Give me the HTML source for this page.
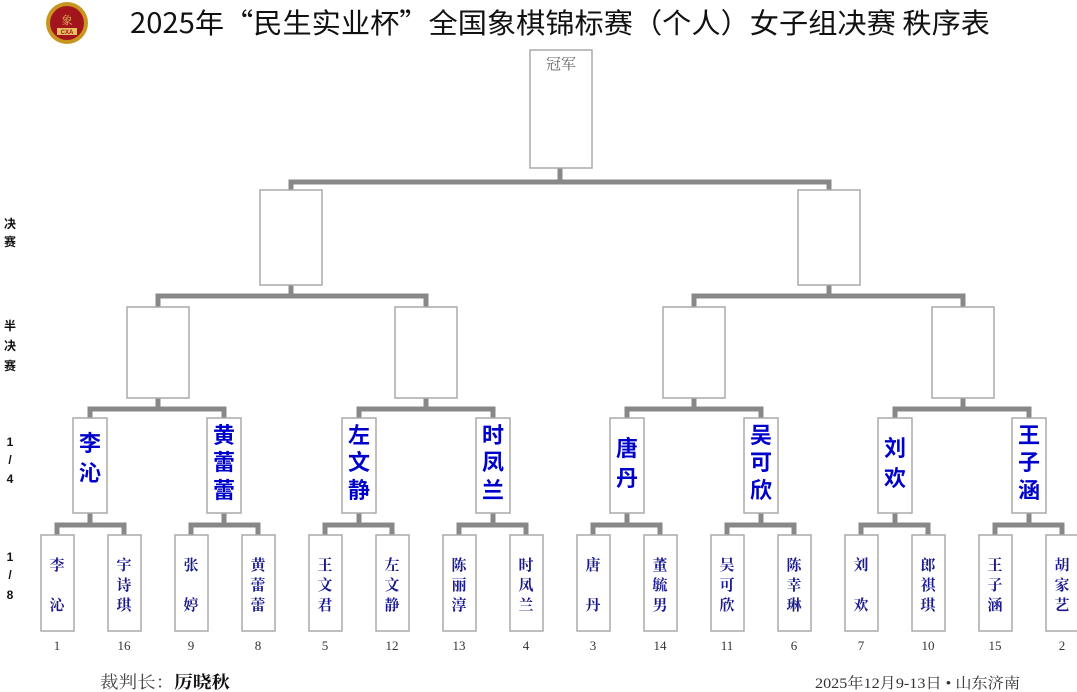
<!DOCTYPE html>
<html><head><meta charset="utf-8"><style>
body{margin:0;background:#fff;width:1077px;height:692px;overflow:hidden;}
svg{display:block}
.s{font-family:"Liberation Serif","Noto Serif CJK SC",serif;}
.k{font-family:"Liberation Sans","Noto Sans CJK SC",sans-serif;}
</style></head><body>
<svg width="1077" height="692" viewBox="0 0 1077 692">
<!-- logo -->
<circle cx="67" cy="23" r="21" fill="#c8961e"/>
<circle cx="67" cy="23" r="17" fill="#a3151c"/>
<text x="67" y="24" font-size="11" fill="#e8c060" text-anchor="middle" class="s">象</text>
<rect x="57" y="28" width="20" height="7" fill="#e8c060"/>
<text x="67" y="34" font-size="6" fill="#a3151c" text-anchor="middle" class="k" font-weight="bold">CXA</text>
<text x="130" y="33" font-size="28" fill="#111" textLength="860" lengthAdjust="spacingAndGlyphs" style='font-family:"Noto Sans CJK SC",sans-serif'>2025年“民生实业杯”全国象棋锦标赛（个人）女子组决赛 秩序表</text>

<g stroke="#888" stroke-width="5" fill="none">
<path d="M560 168V182M291 190V182H829V190"/>
<path d="M291 285V296M158 307V296H426V307M829 285V296M694 307V296H963V307"/>
<path d="M158 398V409M90 418V409H224V418M426 398V409M359 418V409H493V418M694 398V409M627 418V409H761V418M963 398V409M895 418V409H1029V418"/>
<path d="M90 513V525M57 535V525H124V535M224 513V525M191 535V525H258V535M359 513V525M325 535V525H392V535M493 513V525M459 535V525H526V535M627 513V525M593 535V525H660V535M761 513V525M727 535V525H794V535M895 513V525M861 535V525H928V535M1029 513V525M995 535V525H1062V535"/>
</g>
<g fill="#fff" stroke="#aaa" stroke-width="1.5">
<rect x="530" y="50" width="62" height="118"/>
<rect x="260" y="190" width="62" height="95"/><rect x="798" y="190" width="62" height="95"/>
<rect x="127" y="307" width="62" height="91"/><rect x="395" y="307" width="62" height="91"/><rect x="663" y="307" width="62" height="91"/><rect x="932" y="307" width="62" height="91"/>
<rect x="73" y="418" width="34" height="95"/><rect x="207" y="418" width="34" height="95"/><rect x="342" y="418" width="34" height="95"/><rect x="476" y="418" width="34" height="95"/><rect x="610" y="418" width="34" height="95"/><rect x="744" y="418" width="34" height="95"/><rect x="878" y="418" width="34" height="95"/><rect x="1012" y="418" width="34" height="95"/>
<rect x="41" y="535" width="33" height="96"/><rect x="108" y="535" width="33" height="96"/><rect x="175" y="535" width="33" height="96"/><rect x="242" y="535" width="33" height="96"/><rect x="309" y="535" width="33" height="96"/><rect x="376" y="535" width="33" height="96"/><rect x="443" y="535" width="33" height="96"/><rect x="510" y="535" width="33" height="96"/><rect x="577" y="535" width="33" height="96"/><rect x="644" y="535" width="33" height="96"/><rect x="711" y="535" width="33" height="96"/><rect x="778" y="535" width="33" height="96"/><rect x="845" y="535" width="33" height="96"/><rect x="912" y="535" width="33" height="96"/><rect x="979" y="535" width="33" height="96"/><rect x="1046" y="535" width="33" height="96"/>
</g>
<text x="561" y="69" font-size="15" fill="#666" text-anchor="middle" class="s">冠军</text>

<g class="k" font-size="12" font-weight="bold" fill="#111" text-anchor="middle">
<text x="10" y="228">决</text><text x="10" y="246">赛</text>
<text x="10" y="330">半</text><text x="10" y="350">决</text><text x="10" y="370">赛</text>
<text x="10" y="446">1</text><text x="10" y="464">/</text><text x="10" y="483">4</text>
<text x="10" y="561">1</text><text x="10" y="579">/</text><text x="10" y="599">8</text>
</g>

<g class="k" font-size="22" font-weight="bold" fill="#0000cc" text-anchor="middle">
<text x="90" y="451">李</text><text x="90" y="481">沁</text>
<text x="224" y="443">黄</text><text x="224" y="470">蕾</text><text x="224" y="498">蕾</text>
<text x="359" y="443">左</text><text x="359" y="470">文</text><text x="359" y="498">静</text>
<text x="493" y="443">时</text><text x="493" y="470">凤</text><text x="493" y="498">兰</text>
<text x="627" y="456">唐</text><text x="627" y="486">丹</text>
<text x="761" y="443">吴</text><text x="761" y="470">可</text><text x="761" y="498">欣</text>
<text x="895" y="456">刘</text><text x="895" y="486">欢</text>
<text x="1029" y="443">王</text><text x="1029" y="470">子</text><text x="1029" y="498">涵</text>
</g>

<g class="s" font-size="15" font-weight="bold" fill="#1a1a8c" text-anchor="middle">
<text x="57" y="570">李</text><text x="57" y="610">沁</text>
<text x="124" y="570">宇</text><text x="124" y="590">诗</text><text x="124" y="610">琪</text>
<text x="191" y="570">张</text><text x="191" y="610">婷</text>
<text x="258" y="570">黄</text><text x="258" y="590">蕾</text><text x="258" y="610">蕾</text>
<text x="325" y="570">王</text><text x="325" y="590">文</text><text x="325" y="610">君</text>
<text x="392" y="570">左</text><text x="392" y="590">文</text><text x="392" y="610">静</text>
<text x="459" y="570">陈</text><text x="459" y="590">丽</text><text x="459" y="610">淳</text>
<text x="526" y="570">时</text><text x="526" y="590">凤</text><text x="526" y="610">兰</text>
<text x="593" y="570">唐</text><text x="593" y="610">丹</text>
<text x="660" y="570">董</text><text x="660" y="590">毓</text><text x="660" y="610">男</text>
<text x="727" y="570">吴</text><text x="727" y="590">可</text><text x="727" y="610">欣</text>
<text x="794" y="570">陈</text><text x="794" y="590">幸</text><text x="794" y="610">琳</text>
<text x="861" y="570">刘</text><text x="861" y="610">欢</text>
<text x="928" y="570">郎</text><text x="928" y="590">祺</text><text x="928" y="610">琪</text>
<text x="995" y="570">王</text><text x="995" y="590">子</text><text x="995" y="610">涵</text>
<text x="1062" y="570">胡</text><text x="1062" y="590">家</text><text x="1062" y="610">艺</text>
</g>

<g class="s" font-size="13" fill="#333" text-anchor="middle">
<text x="57" y="650">1</text><text x="124" y="650">16</text><text x="191" y="650">9</text><text x="258" y="650">8</text>
<text x="325" y="650">5</text><text x="392" y="650">12</text><text x="459" y="650">13</text><text x="526" y="650">4</text>
<text x="593" y="650">3</text><text x="660" y="650">14</text><text x="727" y="650">11</text><text x="794" y="650">6</text>
<text x="861" y="650">7</text><text x="928" y="650">10</text><text x="995" y="650">15</text><text x="1062" y="650">2</text>
</g>
<text x="100" y="688" font-size="17" fill="#444" class="s" textLength="130" lengthAdjust="spacingAndGlyphs">裁判长：<tspan font-weight="bold" fill="#111">厉晓秋</tspan></text>
<text x="815" y="688" font-size="15" fill="#333" class="s" textLength="205" lengthAdjust="spacingAndGlyphs">2025年12月9-13日 • 山东济南</text>
</svg>
</body></html>
